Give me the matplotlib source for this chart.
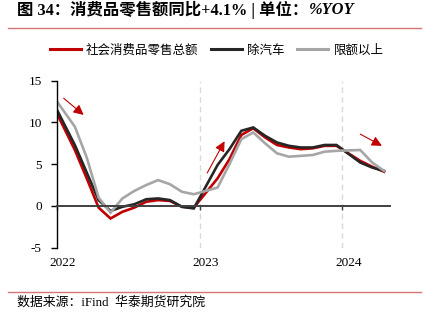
import matplotlib
matplotlib.use('Agg')
import matplotlib.pyplot as plt
from matplotlib.lines import Line2D
from matplotlib.font_manager import FontProperties

# ---- data (cumulative YoY, %) ----
months = ['2021-12',
          '2022-02', '2022-03', '2022-04', '2022-05', '2022-06', '2022-07',
          '2022-08', '2022-09', '2022-10', '2022-11', '2022-12',
          '2023-02', '2023-03', '2023-04', '2023-05', '2023-06', '2023-07',
          '2023-08', '2023-09', '2023-10', '2023-11', '2023-12',
          '2024-02', '2024-03', '2024-04']
total_retail = [12.5,
                6.7, 3.3, -0.2, -1.5, -0.7, -0.2, 0.5, 0.7, 0.6, -0.1, -0.2,
                3.3, 5.6, 8.5, 9.3, 8.2, 7.3, 7.0, 6.8, 6.9, 7.2, 7.2,
                5.4, 4.7, 4.1]
ex_auto = [12.9,
           7.3, 4.0, 0.7, -0.6, -0.1, 0.2, 0.8, 0.9, 0.7, -0.1, -0.3,
           4.9, 6.8, 9.0, 9.4, 8.4, 7.6, 7.2, 7.0, 7.0, 7.3, 7.3,
           5.2, 4.6, 4.2]
above_limit = [13.5,
               9.5, 5.8, 1.0, -0.8, 0.9, 1.8, 2.5, 3.1, 2.6, 1.7, 1.4,
               2.2, 5.0, 8.0, 8.8, 7.5, 6.3, 5.9, 6.0, 6.1, 6.5, 6.6,
               6.7, 5.2, 4.2]
series_names = ['社会消费品零售总额', '除汽车', '限额以上']
series_colors = ['#c00000', '#262626', '#a6a6a6']
year_labels = ['2022', '2023', '2024']
y_ticks = [-5, 0, 5, 10, 15]
# trend arrows (start month-pos, start value, end month-pos, end value)
arrows = [(0.56, 12.9, 2.24, 10.9),
          (12.63, 3.95, 14.09, 7.75),
          (25.5, 8.6, 27.32, 7.2)]

title_main = '图 34：消费品零售额同比+4.1% | 单位：'
title_tail = '%YOY'
source_text = '数据来源：iFind  华泰期货研究院'

# month position: months since Jan 2022, plotted mid-month
x = [(int(m[:4]) - 2022) * 12 + int(m[5:]) - 1 + 0.5 for m in months]

W, H = 433, 322
fig = plt.figure(figsize=(W / 100, H / 100), dpi=100)
ax = fig.add_axes([57 / W, 1 - 247.7 / H, (390 - 57) / W, (247.7 - 80.7) / H])

for vals, name, col in zip([total_retail, ex_auto, above_limit], series_names, series_colors):
    ax.plot(x, vals, color=col, lw=1.9, label=name, solid_joinstyle='miter', clip_on=True)

ax.set_xlim(0, 28)
ax.set_ylim(-5, 15)
ax.set_yticks(y_ticks)
ax.set_yticklabels([str(v) for v in y_ticks])

year_pos = [12 * i for i in range(len(year_labels))]
ax.set_xticks(year_pos)
ax.set_xticklabels([''] * len(year_pos))
ax.set_xticks([p + 0.5 for p in year_pos], minor=True)
ax.set_xticklabels(year_labels, minor=True)

ax.spines['top'].set_visible(False)
ax.spines['right'].set_visible(False)
ax.spines['bottom'].set_position(('data', 0))
ax.spines['bottom'].set_color('#404040')
ax.spines['bottom'].set_linewidth(1.4)
ax.spines['left'].set_color('black')
ax.spines['left'].set_linewidth(1.0)

serif = 'Liberation Serif'
ax.tick_params(axis='y', direction='out', length=4, width=1, pad=7, labelsize=9.5)
ax.tick_params(axis='x', which='major', direction='out', length=3, width=1, color='#404040')
ax.tick_params(axis='x', which='minor', length=0, pad=37, labelsize=9.5)
for lab in ax.get_yticklabels() + ax.get_xticklabels(minor=True):
    lab.set_fontfamily(serif)

for p in year_pos[1:]:
    ax.axvline(p, color='#d9d9d9', lw=1.0, ls=(0, (4, 3)), zorder=0)

for (x0, y0, x1, y1) in arrows:
    ax.annotate('', xy=(x1, y1), xytext=(x0, y0),
                arrowprops=dict(arrowstyle='-|>', color='#c00000', lw=0.8,
                                mutation_scale=15, shrinkA=0, shrinkB=0))

# legend
handles = [Line2D([0], [0], color=c, lw=2.2) for c in series_colors]
fig.legend(handles, series_names, loc='center', bbox_to_anchor=(0.5, 1 - 50 / H),
           ncol=3, frameon=False, prop=FontProperties(family='Noto Sans CJK SC', size=9),
           handlelength=2.5, handletextpad=0.4, columnspacing=1.0)

# title
title_y = 1 - 9.5 / H
t1 = fig.text(17 / W, title_y, title_main, va='center', ha='left', fontsize=11.8,
              fontweight='bold', family=['Liberation Serif', 'Noto Sans CJK SC'])
fig.canvas.draw()
bb = t1.get_window_extent()
fig.text(bb.x1 / W + 0.002, title_y, title_tail, va='center', ha='left', fontsize=11.8,
         fontweight='bold', fontstyle='italic', family='Liberation Serif')

# rules
rule_col = '#d57575'
fig.add_artist(Line2D([8 / W, 421 / W], [1 - 28 / H] * 2, color=rule_col, lw=1.0))
fig.add_artist(Line2D([8 / W, 421 / W], [1 - 291.5 / H] * 2, color=rule_col, lw=1.0))

fig.text(17 / W, 1 - 302 / H, source_text, va='center', ha='left', fontsize=9.3,
         family=['Liberation Serif', 'Noto Sans CJK SC'])

fig.savefig('out.png', dpi=100)
